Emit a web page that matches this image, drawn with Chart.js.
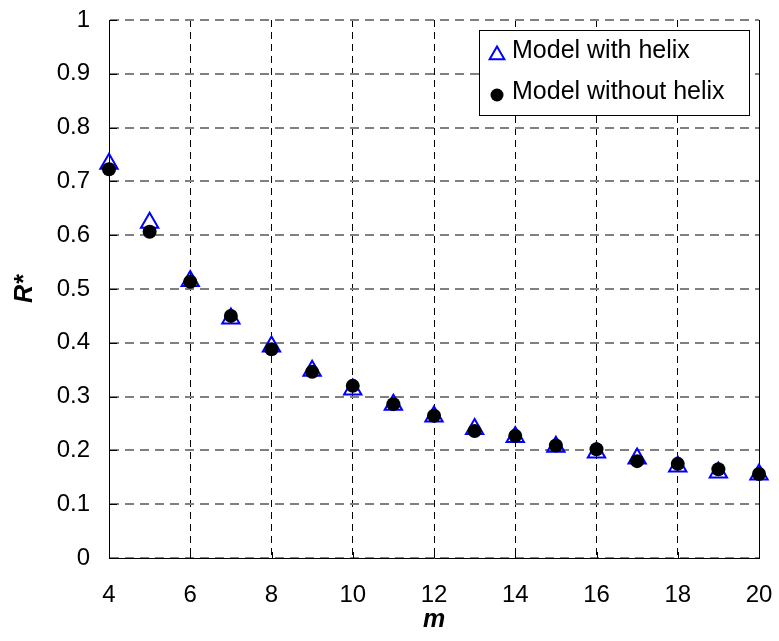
<!DOCTYPE html>
<html>
<head>
<meta charset="utf-8">
<script src="https://cdn.jsdelivr.net/npm/chart.js@4/dist/chart.umd.min.js"></script>
<style>
  html, body { margin: 0; padding: 0; background: #ffffff; }
  #wrap { width: 779px; height: 641px; position: relative; }
</style>
</head>
<body>
<div id="wrap"><canvas id="c" width="779" height="641"></canvas></div>
<script>
// ---- Data ----
const mValues = [4, 5, 6, 7, 8, 9, 10, 11, 12, 13, 14, 15, 16, 17, 18, 19, 20];
const withHelix = [0.733, 0.623, 0.515, 0.445, 0.393, 0.348, 0.313, 0.285, 0.263, 0.240, 0.225, 0.207, 0.196, 0.185, 0.170, 0.159, 0.155];
const withoutHelix = [0.7225, 0.6065, 0.5136, 0.450, 0.388, 0.346, 0.320, 0.286, 0.2645, 0.236, 0.227, 0.209, 0.202, 0.180, 0.175, 0.165, 0.156];
const seriesNames = ['Model with helix', 'Model without helix'];
const xTitle = 'm';
const yTitle = 'R*';

const FONT = "'Liberation Sans', Arial, sans-serif";

const toPoints = (ys) => mValues.map((m, i) => ({ x: m, y: ys[i] }));

const decorations = {
  id: 'decorations',
  beforeDatasetsDraw(chart) {
    const { ctx, chartArea: a, scales: { x, y } } = chart;
    ctx.save();
    ctx.strokeStyle = '#000';
    ctx.lineWidth = 1;
    ctx.setLineDash([]);
    ctx.beginPath();
    ctx.moveTo(Math.round(a.right) + 0.5, a.top);
    ctx.lineTo(Math.round(a.right) + 0.5, a.bottom);
    y.ticks.forEach(t => {
      const py = Math.round(y.getPixelForValue(t.value)) + 0.5;
      ctx.moveTo(a.left, py);
      ctx.lineTo(a.left + 8, py);
    });
    x.ticks.forEach(t => {
      const px = Math.round(x.getPixelForValue(t.value)) + 0.5;
      ctx.moveTo(px, a.bottom);
      ctx.lineTo(px, a.bottom - 6);
    });
    ctx.stroke();
    ctx.restore();
  },
  afterDraw(chart) {
    const { ctx } = chart;
    const bx = 479, by = 30, bw = 270, bh = 85;
    ctx.save();
    ctx.fillStyle = '#fff';
    ctx.fillRect(bx, by, bw, bh);
    ctx.strokeStyle = '#000';
    ctx.lineWidth = 1;
    ctx.setLineDash([]);
    ctx.strokeRect(bx + 0.5, by + 0.5, bw, bh);
    const ds = chart.data.datasets;
    const rows = [
      { ds: ds[0], mx: 497, my: 55, ty: 51 },
      { ds: ds[1], mx: 497, my: 95, ty: 92 }
    ];
    rows.forEach(r => {
      const d = r.ds;
      ctx.lineWidth = d.borderWidth;
      ctx.strokeStyle = d.borderColor;
      ctx.fillStyle = d.backgroundColor;
      if (d.pointStyle === 'triangle') {
        const rad = 8.5;
        ctx.beginPath();
        for (let k = 0; k < 3; k++) {
          const ang = k * 2 * Math.PI / 3;
          const px = r.mx + Math.sin(ang) * rad;
          const py = r.my - Math.cos(ang) * rad;
          if (k === 0) ctx.moveTo(px, py); else ctx.lineTo(px, py);
        }
        ctx.closePath();
        ctx.stroke();
      } else {
        ctx.beginPath();
        ctx.arc(r.mx, r.my, 6.5, 0, Math.PI * 2);
        ctx.fill();
      }
      ctx.fillStyle = '#000';
      ctx.font = '25px ' + FONT;
      ctx.textAlign = 'left';
      ctx.textBaseline = 'middle';
      ctx.fillText(d.label, 512, r.ty);
    });
    ctx.restore();
  }
};

new Chart(document.getElementById('c'), {
  type: 'scatter',
  data: {
    datasets: [
      {
        label: seriesNames[0],
        data: toPoints(withHelix),
        pointStyle: 'triangle',
        pointRadius: 10,
        pointHoverRadius: 10,
        borderColor: '#0000ff',
        backgroundColor: 'rgba(0,0,0,0)',
        borderWidth: 2,
        clip: false,
        order: 1
      },
      {
        label: seriesNames[1],
        data: toPoints(withoutHelix),
        pointStyle: 'circle',
        pointRadius: 7,
        pointHoverRadius: 7,
        borderColor: '#000000',
        backgroundColor: '#000000',
        borderWidth: 0,
        clip: false,
        order: 0
      }
    ]
  },
  options: {
    responsive: false,
    animation: false,
    layout: { padding: { top: 20, right: 20, left: 0, bottom: 0 } },
    plugins: {
      legend: { display: false },
      tooltip: { enabled: false }
    },
    scales: {
      x: {
        type: 'linear',
        min: 4,
        max: 20,
        ticks: {
          stepSize: 2,
          padding: 23,
          color: '#000',
          font: { family: FONT, size: 24 },
          maxRotation: 0
        },
        grid: {
          color: '#000',
          lineWidth: 1,
          drawTicks: false
        },
        border: { display: true, color: '#000', width: 1, dash: [7, 5] },
        title: {
          display: true,
          text: xTitle,
          color: '#000',
          font: { family: FONT, size: 25, weight: 'bold', style: 'italic' },
          padding: { top: 0, bottom: 6 }
        },
        afterFit(scale) {
          scale.height = 83;
          scale.paddingLeft = 0; scale.paddingRight = 0;
          scale.paddingTop = 0; scale.paddingBottom = 0;
        }
      },
      y: {
        type: 'linear',
        min: 0,
        max: 1,
        ticks: {
          stepSize: 0.1,
          padding: 19,
          color: '#000',
          font: { family: FONT, size: 24 },
          callback: (v) => String(Math.round(v * 10) / 10)
        },
        grid: {
          color: '#808080',
          lineWidth: 2,
          drawTicks: false
        },
        border: { display: true, color: '#000', width: 1, dash: [9, 6] },
        title: {
          display: true,
          text: yTitle,
          color: '#000',
          font: { family: FONT, size: 25, weight: 'bold', style: 'italic' },
          padding: { top: 10, bottom: 0 }
        },
        afterFit(scale) {
          scale.width = 109;
          scale.paddingLeft = 0; scale.paddingRight = 0;
          scale.paddingTop = 0; scale.paddingBottom = 0;
        }
      }
    }
  },
  plugins: [decorations]
});
</script>
</body>
</html>
